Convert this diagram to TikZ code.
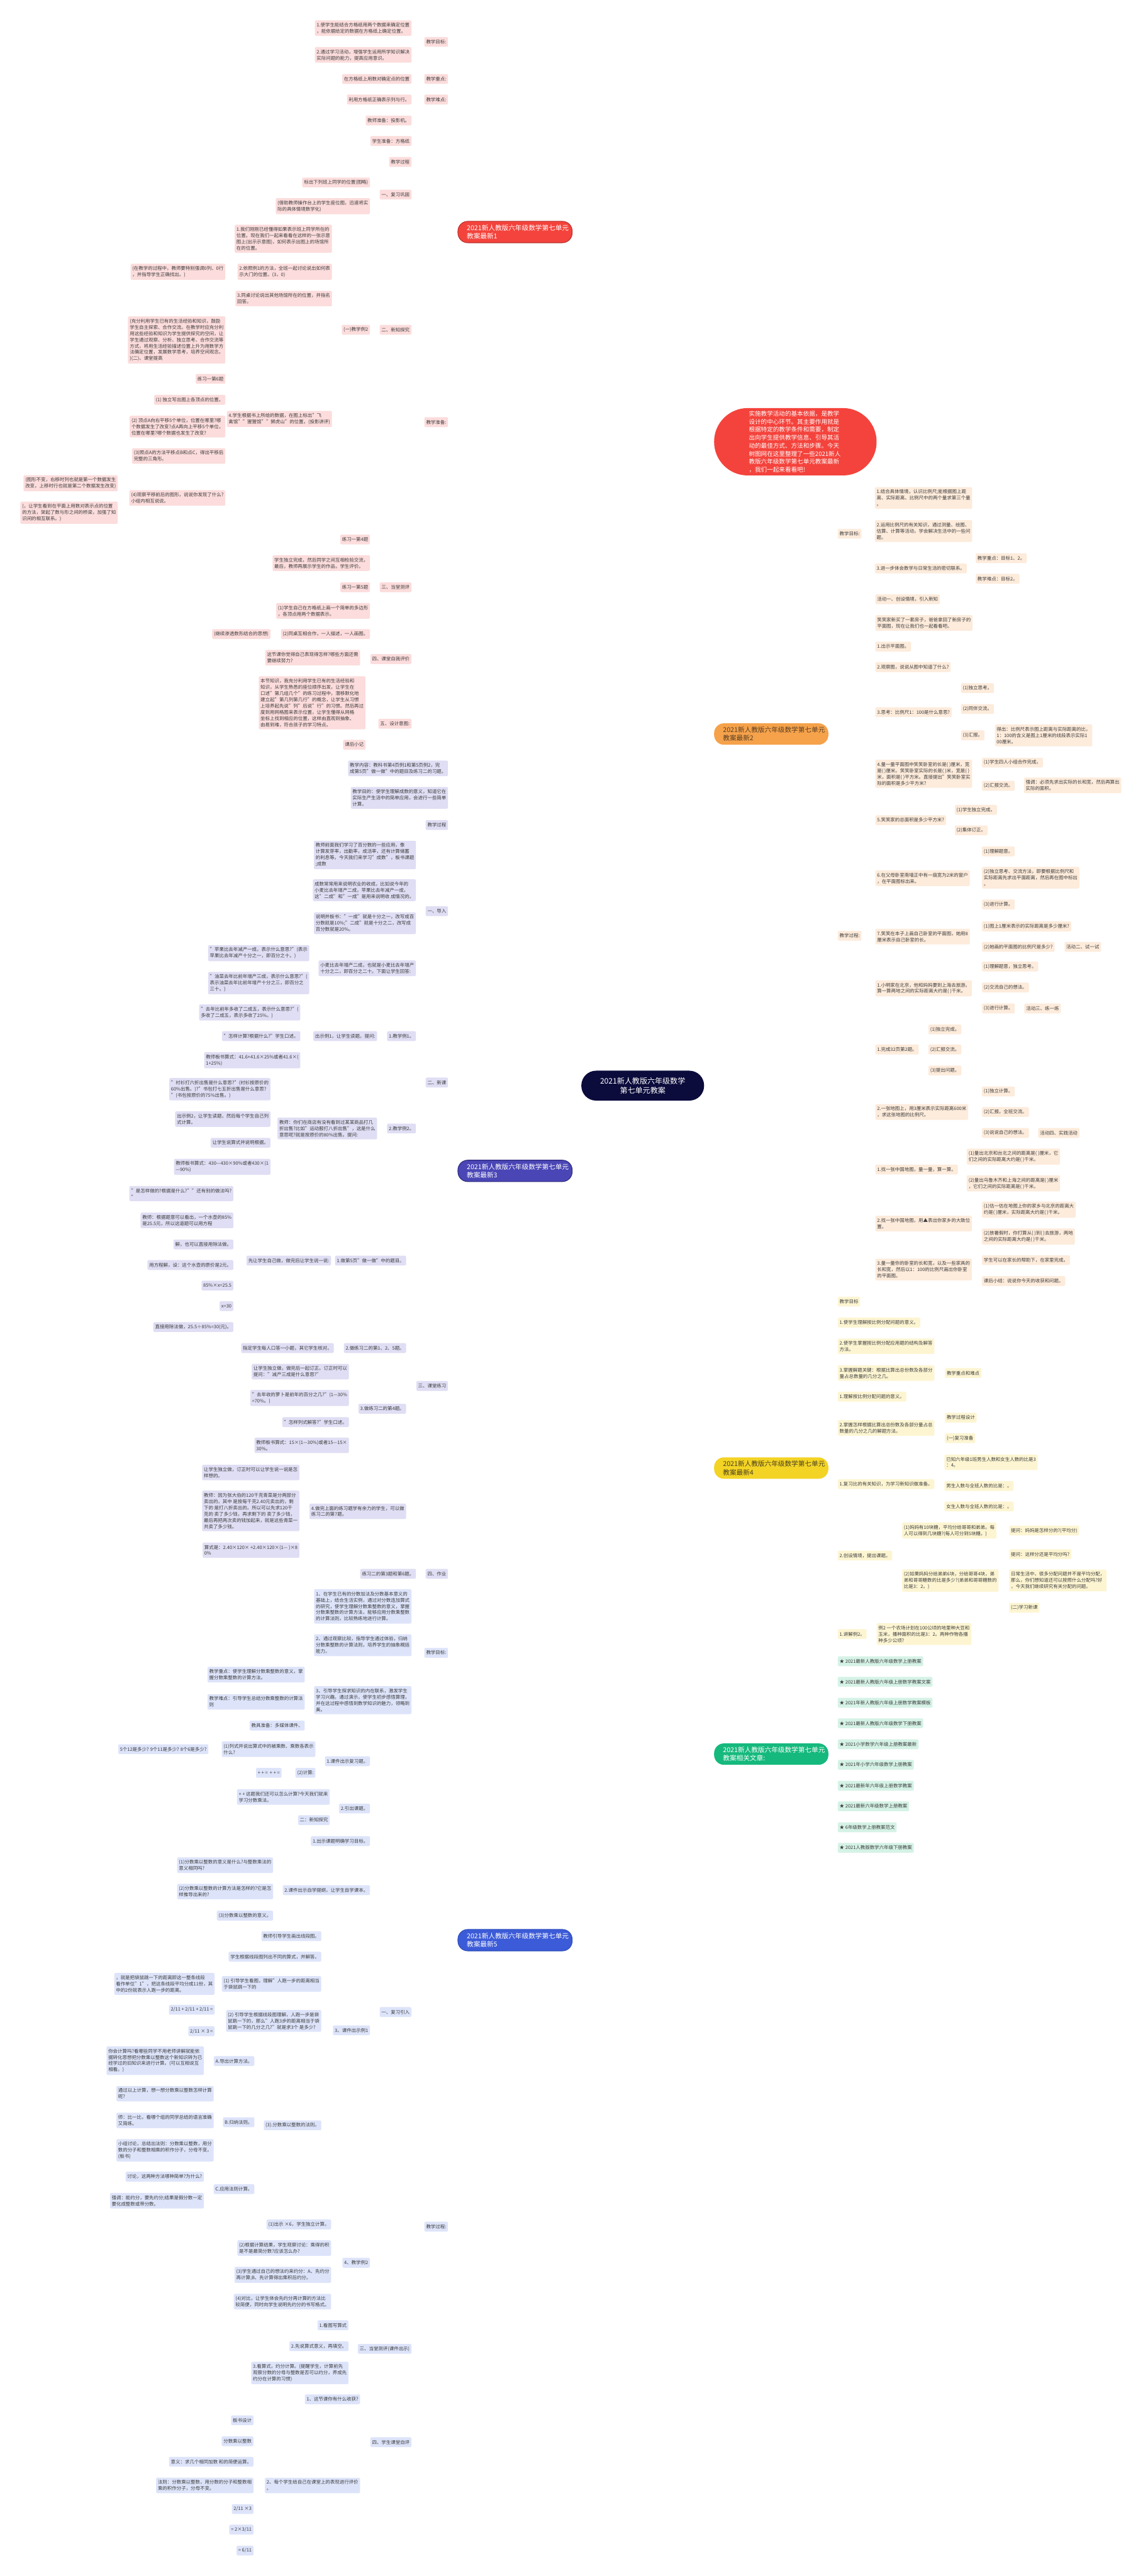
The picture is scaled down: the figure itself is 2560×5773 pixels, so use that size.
\documentclass[tikz,border=0pt]{standalone}
\usepackage{fontspec}
\setmainfont{Noto Sans CJK SC}
\usetikzlibrary{calc}
\pgfdeclarelayer{bg}
\pgfsetlayers{bg,main}
\definecolor{cRed}{HTML}{F4433C}
\definecolor{cRedLeaf}{HTML}{FCDCDC}
\definecolor{cRedLine}{HTML}{B5312C}
\definecolor{cPur}{HTML}{4A46B6}
\definecolor{cPurLeaf}{HTML}{DFDEF4}
\definecolor{cPurLine}{HTML}{2C2A78}
\definecolor{cBlu}{HTML}{3C5BD8}
\definecolor{cBluLeaf}{HTML}{DDE4FA}
\definecolor{cBluLine}{HTML}{2C4DB8}
\definecolor{cOra}{HTML}{F5A24B}
\definecolor{cOraLeaf}{HTML}{FDEBDB}
\definecolor{cOraLine}{HTML}{E09A50}
\definecolor{cYel}{HTML}{F3D324}
\definecolor{cYelLeaf}{HTML}{FDF5D2}
\definecolor{cYelLine}{HTML}{EBCF3A}
\definecolor{cGre}{HTML}{16B97D}
\definecolor{cGreLeaf}{HTML}{D5F2E6}
\definecolor{cGreLine}{HTML}{119062}
\definecolor{cCen}{HTML}{0B0B3C}
\definecolor{cTxt}{HTML}{3C3C3C}
\definecolor{cOraTxt}{HTML}{5A3E22}
\definecolor{cYelTxt}{HTML}{4A4020}
\newcommand\Lk[3]{\draw[#1] (#2.west) -| ([xshift=10pt]#3.east) -- (#3.east);}
\newcommand\Rk[3]{\draw[#1] (#2.east) -| ([xshift=-10pt]#3.west) -- (#3.west);}
\tikzset{
 leaf/.style={rounded corners=3pt, inner xsep=4pt, inner ysep=5.5pt, align=left, minimum height=22pt, font=\fontsize{10.5}{14}\selectfont, text=cTxt},
 rl/.style={leaf, fill=cRedLeaf, anchor=east},
 pl/.style={leaf, fill=cPurLeaf, anchor=east},
 bl/.style={leaf, fill=cBluLeaf, anchor=east},
 ol/.style={leaf, fill=cOraLeaf, anchor=west},
 yl/.style={leaf, fill=cYelLeaf, anchor=west},
 gl/.style={leaf, fill=cGreLeaf, anchor=west},
 mainnode/.style={rounded corners=22pt, minimum width=256pt, minimum height=48pt, text width=216pt, inner xsep=20pt, align=left, font=\fontsize{15}{19}\selectfont},
 lk/.style={line width=1.4pt, rounded corners=6pt},
 lkm/.style={line width=2pt, rounded corners=12pt},
 lkR/.style={lk, draw=cRedLine}, lkRm/.style={lkm, draw=cRedLine},
 lkP/.style={lk, draw=cPurLine}, lkPm/.style={lkm, draw=cPurLine},
 lkB/.style={lk, draw=cBluLine}, lkBm/.style={lkm, draw=cBluLine},
 lkO/.style={lk, draw=cOraLine}, lkOm/.style={lkm, draw=cOraLine},
 lkY/.style={lk, draw=cYelLine}, lkYm/.style={lkm, draw=cYelLine},
 lkG/.style={lk, draw=cGreLine}, lkGm/.style={lkm, draw=cGreLine},
 cc/.style={line width=2pt},
}
\begin{document}
\begin{tikzpicture}[x=1pt,y=-1pt]
\fill[white] (0,0) rectangle (2560,5773);
\useasboundingbox (0,0) rectangle (2560,5773);

% ---------------- centre and descriptions
\node[rounded corners=33pt, fill=cCen, text=white, minimum width=275pt, minimum height=67pt, align=center, font=\fontsize{17}{22}\selectfont] (C) at (1440,2433) {2021新人教版六年级数学\\第七单元教案};
\node[rounded corners=75pt, fill=cRed, text=white, text width=208pt, inner xsep=78pt, inner ysep=6pt, align=left, font=\fontsize{13.5}{18}\selectfont] (D) at (1782,990) {实施教学活动的基本依据，是教学\\设计的中心环节。其主要作用就是\\根据特定的教学条件和需要，制定\\出向学生提供教学信息、引导其活\\动的最佳方式、方法和步骤。今天\\树图网在这里整理了一些2021新人\\教版六年级数学第七单元教案最新\\，我们一起来看看吧!};

% ---------------- branch 1 (red)
\node[mainnode, fill=cRed, draw=cRedLine, line width=1.5pt, text=white] (M1) at (1154,520) {2021新人教版六年级数学第七单元\\教案最新1};
\node[rl] (rA) at (1004,94) {教学目标:};
\node[rl] (rB) at (1004,177) {教学重点:};
\node[rl] (rC) at (1004,223) {教学难点:};
\node[rl] (rD) at (1004,946) {教学准备:};
\node[rl] (rA1) at (922,63) {1.使学生能结合方格纸用两个数据来确定位置\\，能依据给定的数据在方格纸上确定位置。};
\node[rl] (rA2) at (922,123) {2.通过学习活动，增强学生运用所学知识解决\\实际问题的能力，提高应用意识。};
\node[rl] (rB1) at (922,177) {在方格纸上用数对确定点的位置};
\node[rl] (rC1) at (922,223) {利用方格纸正确表示列与行。};
\node[rl] (rD1) at (922,270) {教师准备：投影机。};
\node[rl] (rD2) at (922,316) {学生准备：方格纸};
\node[rl] (rD3) at (922,363) {教学过程};
\node[rl] (rD4) at (922,436) {一、复习巩固};
\node[rl] (rD5) at (922,739) {二、新知探究};
\node[rl] (rD6) at (922,1316) {三、当堂测评};
\node[rl] (rD7) at (922,1477) {四、课堂自我评价};
\node[rl] (rD8) at (922,1622) {五、设计意图:};
\node[rl] (rD4a) at (829,409) {标出下列班上同学的位置(图略)};
\node[rl] (rD4b) at (829,462) {(借助教师操作台上的学生座位图，迅速将实\\际的具体情境数学化)};
\node[rl] (rD5a) at (829,739) {(一)教学例2};
\node[rl] (rE1) at (744,535) {1.我们刚刚已经懂得如果表示班上同学所在的\\位置。现在我们一起来看看在这样的一张示意\\图上(出示示意图)，如何表示出图上的场馆所\\在的位置。};
\node[rl] (rE2) at (744,609) {2.依照例1的方法，全班一起讨论说出如何表\\示大门的位置。(3，0)};
\node[rl] (rE3) at (744,669) {3.同桌讨论说出其他场馆所在的位置，并指名\\回答。};
\node[rl] (rE4) at (744,939) {4.学生根据书上所给的数据，在图上标出"飞\\禽馆""猩猩馆""狮虎山"的位置。(投影讲评)};
\node[rl] (rE2a) at (505,609) {(在教学的过程中，教师要特别强调0列、0行\\，并指导学生正确找出。)};
\node[rl] (rF1) at (505,762) {(充分利用学生已有的生活经验和知识，鼓励\\学生自主探索、合作交流。在教学时应充分利\\用这些经验和知识为学生提供探究的空间，让\\学生通过观察、分析、独立思考、合作交流等\\方式，将用生活经验描述位置上升为用数学方\\法确定位置，发展数学思考，培养空间观念。\\)(二)、课堂提高};
\node[rl] (rF2) at (505,849) {练习一第6题};
\node[rl] (rF3) at (505,896) {(1) 独立写出图上各顶点的位置。};
\node[rl] (rF4) at (505,956) {(2) 顶点A向右平移5个单位，位置在哪里?哪\\个数据发生了改变?点A再向上平移5个单位，\\位置在哪里?哪个数据也发生了改变?};
\node[rl] (rF5) at (505,1022) {(3)照点A的方法平移点B和点C，得出平移后\\完整的三角形。};
\node[rl] (rF6) at (505,1116) {(4)观察平移前后的图形，说说你发现了什么?\\小组内相互说说。};
\node[rl] (rF6a) at (264,1083) {(图形不变，右移时列也就是第一个数据发生\\改变，上移时行也就是第二个数据发生改变)};
\node[rl] (rF6b) at (264,1149) {(，让学生看到在平面上用数对表示点的位置\\的方法，架起了数与形之间的桥梁，加强了知\\识间的相互联系。)};
\node[rl] (rT1) at (829,1209) {练习一第4题};
\node[rl] (rT2) at (829,1262) {学生独立完成，然后同学之间互相检验交流，\\最后，教师再展示学生的作品，学生评价。};
\node[rl] (rT3) at (829,1316) {练习一第5题};
\node[rl] (rT4) at (829,1369) {(1)学生自己在方格纸上画一个简单的多边形\\，各顶点用两个数据表示。};
\node[rl] (rT5) at (829,1421) {(2)同桌互相合作，一人描述，一人画图。};
\node[rl] (rT5a) at (606,1421) {(继续渗透数形结合的思想)};
\node[rl] (rD7a) at (807,1474) {这节课你觉得自己表现得怎样?哪些方面还需\\要继续努力?};
\node[rl] (rD8a) at (819,1575) {本节知识，我充分利用学生已有的生活经验和\\知识，从学生熟悉的座位顺序出发，让学生在\\口述"第几组几个"的练习过程中，潜移默化地\\建立起"第几列第几行"的概念，让学生从习惯\\上培养起先说"列"后说"行"的习惯。然后再过\\度到用网格图来表示位置，让学生懂得从网格\\坐标上找到相应的位置，这样由直观到抽象、\\由易到难，符合孩子的学习特点。};
\node[rl] (rD8b) at (819,1669) {课后小记};

% ---------------- branch 3 (purple)
\node[mainnode, fill=cPur, draw=cPurLine, line width=1.5pt, text=white] (M3) at (1154,2624) {2021新人教版六年级数学第七单元\\教案最新3};
\node[pl] (pC) at (1004,1722) {教学内容：教科书第4页例1和第5页例2，完\\成第5页"做一做"中的题目及练习二的习题。};
\node[pl] (pM) at (1004,1788) {教学目的：使学生理解成数的意义，知道它在\\实际生产生活中的简单应用，会进行一些简单\\计算。};
\node[pl] (pP) at (1004,1849) {教学过程};
\node[pl] (pI) at (1004,2042) {一、导入};
\node[pl] (pN) at (1004,2426) {二、新课};
\node[pl] (pQ) at (1004,3106) {三、课堂练习};
\node[pl] (pH) at (1004,3527) {四、作业};
\node[pl] (pI1) at (932,1916) {教师前面我们学习了百分数的一些应用，像\\计算发芽率，出勤率，成活率，还有计算储蓄\\的利息等。今天我们来学习"成数"，板书课题\\;成数};
\node[pl] (pI2) at (932,1995) {成数常常用来说明农业的收成，比如说今年的\\小麦比去年增产二成，苹果比去年减产一成，\\这"二成"和"一成"是用来说明收 成情况的。};
\node[pl] (pI3) at (932,2069) {说明并板书："一成"就是十分之一，改写成百\\分数就是10\%;"二成"就是十分之二，改写成\\百分数就是20\%。};
\node[pl] (pI4) at (932,2170) {小麦比去年增产二成，也就是小麦比去年增产\\十分之二，即百分之二十。下面让学生回答:};
\node[pl] (pI4a) at (693,2136) {"苹果比去年减产一成，表示什么意思?"(表示\\苹果比去年减产十分之一，即百分之十。)};
\node[pl] (pI4b) at (693,2203) {"油菜去年比前年增产三成，表示什么意思?"(\\表示油菜去年比前年增产十分之三，即百分之\\三十。)};
\node[pl] (pN1) at (932,2322) {1.教学例1。};
\node[pl] (pN1a) at (845,2322) {出示例1，让学生读题。提问:};
\node[pl] (pA1) at (673,2269) {"去年比前年多收了二成五，表示什么意思?"(\\多收了二成五，表示多收了25\%。)};
\node[pl] (pA2) at (673,2322) {"怎样计算?根据什么?"学生口述。};
\node[pl] (pA3) at (673,2376) {教师板书算式：41.6+41.6×25\%或者41.6×(\\1+25\%)};
\node[pl] (pN2) at (932,2529) {2.教学例2。};
\node[pl] (pN2a) at (845,2529) {教师：你们在商店有没有看到过某某商品打几\\折出售?比如"运动服打八折出售"，这是什么\\意思呢?就是按原价的80\%出售。提问:};
\node[pl] (pB1) at (606,2441) {"衬衫打六折出售是什么意思?"(衬衫按原价的\\60\%出售。)?"书包打七五折出售是什么意思?\\"(书包按原价的75\%出售。)};
\node[pl] (pB2) at (606,2508) {出示例2，让学生读题，然后每个学生自己列\\式计算。};
\node[pl] (pB3) at (606,2561) {让学生说算式并说明根据。};
\node[pl] (pB4) at (606,2615) {教师板书算式：430—430×90\%或者430×(1\\—90\%)};
\node[pl] (pQ1) at (910,2825) {1.做第5页"做一做"中的题目。};
\node[pl] (pQ1a) at (742,2825) {先让学生自己做，做完后让学生说一说:};
\node[pl] (pC1) at (523,2675) {"是怎样做的?根据是什么?""还有别的做法吗?\\"};
\node[pl] (pC2) at (523,2735) {教师：根据题意可以看出，一个水壶的85\%\\是25.5元，所以这道题可以用方程};
\node[pl] (pC3) at (523,2789) {解，也可以直接用除法做。};
\node[pl] (pC4) at (523,2835) {用方程解，设：这个水壶的原价是2元。};
\node[pl] (pC5) at (523,2881) {85\%×x=25.5};
\node[pl] (pC6) at (523,2927) {x=30};
\node[pl] (pC7) at (523,2974) {直接用除法做，25.5÷85\%=30(元)。};
\node[pl] (pQ2) at (910,3021) {2.做练习二的第1、2、5题。};
\node[pl] (pQ2a) at (748,3021) {指定学生每人口答一小题，其它学生核对。};
\node[pl] (pQ3) at (910,3157) {3.做练习二的第4题。};
\node[pl] (pD1) at (782,3074) {让学生独立做，做完后一起订正。订正时可以\\提问："减产三成是什么意思?"};
\node[pl] (pD2) at (782,3133) {"去年收的萝卜是前年的百分之几?"(1—30\%\\=70\%。)};
\node[pl] (pD3) at (782,3187) {"怎样列式解答?"学生口述。};
\node[pl] (pD4) at (782,3239) {教师板书算式：15×(1—30\%)或者15—15×\\30\%。};
\node[pl] (pQ4) at (910,3387) {4.做完上面的练习题学有余力的学生，可以做\\练习二的第7题。};
\node[pl] (pE1) at (671,3300) {让学生独立做，订正时可以让学生说一说是怎\\样想的。};
\node[pl] (pE2) at (671,3386) {教师：因为张大伯的120千克青菜是分两部分\\卖出的，其中 是按每千克2.40元卖出的，剩\\下的 是打八折卖出的。所以可以先求120千\\克的 卖了多少钱，再求剩下的 卖了多少钱，\\最后再把两次卖的钱加起来，就是这些青菜一\\共卖了多少钱。};
\node[pl] (pE3) at (671,3474) {算式是：2.40×120× +2.40×120×(1— )×8\\0\%};
\node[pl] (pH1) at (932,3527) {练习二的第3题和第6题。};

% ---------------- branch 5 (blue)
\node[mainnode, fill=cBlu, draw=cBluLine, line width=1.5pt, text=white] (M5) at (1154,4348) {2021新人教版六年级数学第七单元\\教案最新5};
\node[bl] (bG) at (1004,3704) {教学目标:};
\node[bl] (bP) at (1004,4990) {教学过程:};
\node[bl] (bG1) at (922,3600) {1、在学生已有的分数加法及分数基本意义的\\基础上，结合生活实例，通过对分数连加算式\\的研究，使学生理解分数乘整数的意义，掌握\\分数乘整数的计算方法，能够应用分数乘整数\\的计算法则，比较熟练地进行计算。};
\node[bl] (bG2) at (922,3687) {2、通过观察比较，指导学生通过体验，归纳\\分数乘整数的计算法则，培养学生的抽象概括\\能力。};
\node[bl] (bG3) at (922,3810) {3、引导学生探求知识的内在联系，激发学生\\学习兴趣。通过演示，使学生初步感悟算理，\\并在这过程中感悟到数学知识的魅力，领略到\\美。};
\node[bl] (bG3a) at (683,3753) {教学重点：使学生理解分数乘整数的意义，掌\\握分数乘整数的计算方法。};
\node[bl] (bG3b) at (683,3814) {教学难点：引导学生总结分数乘整数的计算法\\则};
\node[bl] (bG3c) at (683,3867) {教具准备：多媒体课件、};
\node[bl] (bS1) at (922,4509) {一、复习引入};
\node[bl] (bS3) at (922,5264) {三、当堂测评(课件出示)};
\node[bl] (bS4) at (922,5473) {四、学生课堂自评};
\node[bl] (bA1) at (829,3947) {1.课件出示复习题。};
\node[bl] (bA2) at (829,4053) {2.引出课题。};
\node[bl] (bA3) at (829,4126) {1.出示课题明确学习目标。};
\node[bl] (bA4) at (829,4236) {2.课件出示自学提纲，让学生自学课本。};
\node[bl] (bA5) at (829,4550) {3、课件出示例1};
\node[bl] (bA6) at (829,5071) {4、教学例2};
\node[bl] (bA1a) at (707,3920) {(1)列式并说出算式中的被乘数、乘数各表示\\什么?};
\node[bl] (bA1a1) at (467,3920) {5个12是多少? 9个11是多少? 8个6是多少?};
\node[bl] (bA1b) at (707,3973) {(2)计算:};
\node[bl] (bA1b1) at (631,3973) {+ + = \ + + =};
\node[bl] (bA2a) at (739,4027) {+ + 这题我们还可以怎么计算?今天我们就来\\学习分数乘法。};
\node[bl] (bA2b) at (739,4079) {二：新知探究};
\node[bl] (bA4a) at (612,4180) {(1)分数乘以整数的意义是什么?与整数乘法的\\意义相同吗?};
\node[bl] (bA4b) at (612,4239) {(2)分数乘以整数的计算方法是怎样的?它是怎\\样推导出来的?};
\node[bl] (bA4c) at (612,4293) {(3)分数乘以整数的意义。};
\node[bl] (bX1) at (720,4339) {教师引导学生画出线段图。};
\node[bl] (bX2) at (720,4385) {学生根据线段图列出不同的算式，并解答。};
\node[bl] (bX3) at (720,4446) {(1) 引导学生看图，理解"人跑一步的距离相当\\于袋鼠跳一下的};
\node[bl] (bX3a) at (481,4446) {，就是把袋鼠跳一下的距离即这一整条线段\\看作单位"1"，把这条线段平均分成11份，其\\中的2份就表示人跑一步的距离。};
\node[bl] (bX4) at (720,4529) {(2) 引导学生根据线段图理解，人跑一步是袋\\鼠跳一下的，那么"人跑3步的距离相当于袋\\鼠跳一下的几分之几?"就是求3个 是多少?};
\node[bl] (bX4a) at (481,4504) {2/11 + 2/11 + 2/11 =};
\node[bl] (bX4b) at (481,4552) {2/11 × 3 =};
\node[bl] (bX5) at (720,4763) {(3).分数乘以整数的法则。};
\node[bl] (bY1) at (570,4619) {A.导出计算方法。};
\node[bl] (bY1a) at (457,4618) {你会计算吗?看哪些同学不用老师讲解就能依\\据转化思想把分数乘以整数这个新知识转为已\\经学过的旧知识来进行计算。(可以互相说互\\相看。)};
\node[bl] (bY2) at (570,4756) {B.归纳法则。};
\node[bl] (bY2a) at (479,4692) {通过以上计算，想一想分数乘以整数怎样计算\\呢?};
\node[bl] (bY2b) at (479,4752) {师：比一比，看哪个组的同学总结的语言准确\\又简练。};
\node[bl] (bY2c) at (479,4819) {小组讨论，总结出法则：分数乘以整数，用分\\数的分子和整数相乘的积作分子，分母不变。\\(板书)};
\node[bl] (bY3) at (570,4906) {C.应用法则计算。};
\node[bl] (bY3a) at (457,4878) {讨论，这两种方法哪种简单?为什么?};
\node[bl] (bY3b) at (457,4932) {强调：能约分，要先约分;结果是假分数一定\\要化成整数或带分数。};
\node[bl] (bZ1) at (742,4985) {(1)出示 ×6，学生独立计算。};
\node[bl] (bZ2) at (742,5038) {(2)根据计算结果，学生观察讨论：乘得的积\\是不是最简分数?应该怎么办?};
\node[bl] (bZ3) at (742,5098) {(3)学生通过自己的想法约来约分：A、先约分\\再计算;B、先计算得出乘积后约分。};
\node[bl] (bZ4) at (742,5158) {(4)对比，让学生体会先约分再计算的方法比\\较简便，同时向学生说明先约分的书写格式。};
\node[bl] (bT1) at (781,5211) {1.看图写算式};
\node[bl] (bT2) at (781,5258) {2.先说算式意义，再填空。};
\node[bl] (bT3) at (781,5318) {3.看算式，约分计算。(提醒学生，计算前先\\观察分数的分母与整数是否可以约分，养成先\\约分在计算的习惯)};
\node[bl] (bU1) at (807,5377) {1、这节课你有什么收获?};
\node[bl] (bU2) at (807,5570) {2、每个学生给自己在课堂上的表现进行评价\\。};
\node[bl] (bV1) at (568,5424) {板书设计};
\node[bl] (bV2) at (568,5471) {分数乘以整数};
\node[bl] (bV3) at (568,5517) {意义：求几个相同加数 和的简便运算。};
\node[bl] (bV4) at (568,5570) {法则：分数乘以整数，用分数的分子和整数相\\乘的积作分子，分母不变。};
\node[bl] (bV5) at (568,5623) {2/11 ×3};
\node[bl] (bV6) at (568,5669) {= 2×3/11};
\node[bl] (bV7) at (568,5716) {= 6/11};

% ---------------- branch 2 (orange)
\node[mainnode, fill=cOra, text=cOraTxt] (M2) at (1728,1645) {2021新人教版六年级数学第七单元\\教案最新2};
\node[ol] (oG) at (1877,1196) {教学目标:};
\node[ol] (oP) at (1877,2097) {教学过程:};
\node[ol] (oG1) at (1960,1116) {1.结合具体情境，认识比例尺;能根据图上距\\离、实际距离、比例尺中的两个量求第三个量\\。};
\node[ol] (oG2) at (1960,1190) {2.运用比例尺的有关知识，通过测量、绘图、\\估算、计算等活动，学会解决生活中的一些问\\题。};
\node[ol] (oG3) at (1960,1274) {3.进一步体会数学与日常生活的密切联系。};
\node[ol] (oG3a) at (2186,1251) {教学重点：目标1、2。};
\node[ol] (oG3b) at (2186,1297) {教学难点：目标2。};
\node[ol] (o1) at (1961,1343) {活动一、创设情境，引入新知};
\node[ol] (o2) at (1961,1396) {笑笑家新买了一套房子，爸爸拿回了新房子的\\平面图，现在让我们也一起看看吧。};
\node[ol] (o3) at (1961,1449) {1.出示平面图。};
\node[ol] (o4) at (1961,1495) {2.观察图，说说从图中知道了什么?};
\node[ol] (o5) at (1961,1596) {3.思考：比例尺1：100是什么意思?};
\node[ol] (o5a) at (2153,1542) {(1)独立思考。};
\node[ol] (o5b) at (2153,1589) {(2)同伴交流。};
\node[ol] (o5c) at (2153,1648) {(3)汇报。};
\node[ol] (o5c1) at (2229,1648) {得出：比例尺表示图上距离与实际距离的比，\\1：100的含义是图上1厘米的线段表示实际1\\00厘米。};
\node[ol] (o6) at (1961,1734) {4.量一量平面图中笑笑卧室的长是( )厘米，宽\\是( )厘米。笑笑卧室实际的长是( )米，宽是( )\\米，面积是( )平方米。直接提出"笑笑卧室实\\际的面积是多少平方米?};
\node[ol] (o6a) at (2200,1709) {(1)学生四人小组合作完成。};
\node[ol] (o6b) at (2200,1761) {(2)汇报交流。};
\node[ol] (o6b1) at (2294,1760) {强调：必须先求出实际的长和宽，然后再算出\\实际的面积。};
\node[ol] (o7) at (1961,1838) {5.笑笑家的总面积是多少平方米?};
\node[ol] (o7a) at (2139,1815) {(1)学生独立完成。};
\node[ol] (o7b) at (2139,1861) {(2)集体订正。};
\node[ol] (o8) at (1961,1968) {6.在父母卧室南墙正中有一扇宽为2米的窗户\\，在平面图标出来。};
\node[ol] (o8a) at (2200,1908) {(1)理解题意。};
\node[ol] (o8b) at (2200,1967) {(2)独立思考、交流方法，即要根据比例尺和\\实际距离先求出平面距离，然后再在图中标出\\。};
\node[ol] (o8c) at (2200,2027) {(3)进行计算。};
\node[ol] (o9) at (1961,2099) {7.笑笑在本子上画自己卧室的平面图，她用8\\厘米表示自己卧室的长。};
\node[ol] (o9a) at (2200,2076) {(1)图上1厘米表示的实际距离是多少厘米?};
\node[ol] (o9b) at (2200,2122) {(2)她画的平面图的比例尺是多少?};
\node[ol] (o9b1) at (2385,2122) {活动二、试一试};
\node[ol] (o10) at (1961,2215) {1.小明家在北京，他和妈妈要到上海去旅游。\\算一算两地之间的实际距离大约是( )千米。};
\node[ol] (o10a) at (2200,2166) {(1)理解题意，独立思考。};
\node[ol] (o10b) at (2200,2213) {(2)交流自己的想法。};
\node[ol] (o10c) at (2200,2260) {(3)进行计算。};
\node[ol] (o10c1) at (2295,2260) {活动三、练一练};
\node[ol] (o11) at (1961,2352) {1.完成32页第2题。};
\node[ol] (o11a) at (2080,2307) {(1)独立完成。};
\node[ol] (o11b) at (2080,2352) {(2)汇报交流。};
\node[ol] (o11c) at (2080,2399) {(3)提出问题。};
\node[ol] (o12) at (1961,2492) {2.一张地图上，用3厘米表示实际距离600米\\，求这张地图的比例尺。};
\node[ol] (o12a) at (2200,2446) {(1)独立计算。};
\node[ol] (o12b) at (2200,2492) {(2)汇报，全班交流。};
\node[ol] (o12c) at (2200,2539) {(3)说说自己的想法。};
\node[ol] (o12c1) at (2326,2539) {活动四、实践活动};
\node[ol] (o13) at (1961,2621) {1.找一张中国地图，量一量，算一算。};
\node[ol] (o13a) at (2166,2592) {(1)量出北京和台北之间的距离是( )厘米，它\\们之间的实际距离大约是( )千米。};
\node[ol] (o13b) at (2166,2652) {(2)量出乌鲁木齐和上海之间的距离是( )厘米\\，它们之间的实际距离是( )千米。};
\node[ol] (o14) at (1961,2742) {2.找一张中国地图，用▲表出你家乡的大致位\\置。};
\node[ol] (o14a) at (2200,2711) {(1)估一估在地图上你的家乡与北京的距离大\\约是( )厘米，实际距离大约是( )千米。};
\node[ol] (o14b) at (2200,2771) {(2)放暑假时，你打算从( )到( )去旅游，两地\\之间的实际距离大约是( )千米。};
\node[ol] (o15) at (1961,2845) {3.量一量你的卧室的长和宽，以及一些家具的\\长和宽，然后以1：100的比例尺画出你卧室\\的平面图。};
\node[ol] (o15a) at (2200,2824) {学生可以在家长的帮助下，在家里完成。};
\node[ol] (o15b) at (2200,2871) {课后小结：说说你今天的收获和问题。};

% ---------------- branch 4 (yellow)
\node[mainnode, fill=cYel, text=cYelTxt] (M4) at (1728,3290) {2021新人教版六年级数学第七单元\\教案最新4};
\node[yl] (y1) at (1877,2917) {教学目标};
\node[yl] (y2) at (1877,2964) {1.使学生理解按比例分配问题的意义。};
\node[yl] (y3) at (1877,3017) {2.使学生掌握按比例分配应用题的结构及解答\\方法。};
\node[yl] (y4) at (1877,3077) {3.掌握解题关键：根据比算出总份数及各部分\\量占总数量的几分之几。};
\node[yl] (y4a) at (2117,3077) {教学重点和难点};
\node[yl] (y5) at (1877,3130) {1.理解按比例分配问题的意义。};
\node[yl] (y6) at (1877,3200) {2.掌握怎样根据比算出总份数及各部分量占总\\数量的几分之几的解题方法。};
\node[yl] (y6a) at (2117,3177) {教学过程设计};
\node[yl] (y6b) at (2117,3223) {(一)复习准备};
\node[yl] (y7) at (1877,3326) {1.复习比的有关知识，为学习新知识做准备。};
\node[yl] (y7a) at (2116,3277) {已知六年级1班男生人数和女生人数的比是3\\：4。};
\node[yl] (y7b) at (2116,3330) {男生人数与全班人数的比是：。};
\node[yl] (y7c) at (2116,3376) {女生人数与全班人数的比是：。};
\node[yl] (y8) at (1877,3486) {2.创设情境，提出课题。};
\node[yl] (y8a) at (2021,3430) {(1)妈妈有10块糖，平均分给哥哥和弟弟。每\\人可以得到几块糖?(每人可分到5块糖。)};
\node[yl] (y8a1) at (2261,3430) {提问：妈妈是怎样分的?(平均分)};
\node[yl] (y8b) at (2021,3542) {(2)如果妈妈分给弟弟6块，分给哥哥4块，弟\\弟和哥哥糖数的比是多少?(弟弟和哥哥糖数的\\比是3：2。)};
\node[yl] (y8b1) at (2261,3483) {提问：这样分还是平均分吗?};
\node[yl] (y8b2) at (2261,3542) {日常生活中，很多分配问题并不是平均分配，\\那么，你们想知道还可以按照什么分配吗?好\\，今天我们继续研究有关分配的问题。};
\node[yl] (y8b3) at (2261,3603) {(二)学习新课};
\node[yl] (y9) at (1877,3662) {1.讲解例2。};
\node[yl] (y9a) at (1964,3662) {例2 一个农场计划在100公顷的地里种大豆和\\玉米，播种面积的比是3：2。两种作物各播\\种多少公顷?};

% ---------------- branch 6 (green)
\node[mainnode, fill=cGre, text=white] (M6) at (1728,3931) {2021新人教版六年级数学第七单元\\教案相关文章:};
\node[gl] (g1) at (1877,3723) {★ 2021最新人教版六年级数学上册教案};
\node[gl] (g2) at (1877,3769) {★ 2021最新人教版六年级上册数学教案文案};
\node[gl] (g3) at (1877,3816) {★ 2021年新人教版六年级上册数学教案模板};
\node[gl] (g4) at (1877,3862) {★ 2021最新人教版六年级数学下册教案};
\node[gl] (g5) at (1877,3909) {★ 2021小学数学六年级上册教案最新};
\node[gl] (g6) at (1877,3955) {★ 2021年小学六年级数学上册教案};
\node[gl] (g7) at (1877,4002) {★ 2021最新年六年级上册数学教案};
\node[gl] (g8) at (1877,4048) {★ 2021最新六年级数学上册教案};
\node[gl] (g9) at (1877,4095) {★ 6年级数学上册教案范文};
\node[gl] (g10) at (1877,4141) {★ 2021人教版数学六年级下册教案};

% ---------------- connectors
\begin{pgfonlayer}{bg}
\draw[cc, draw=cRed] (C.center) .. controls (1440,1285) and (1361,520) .. (M1.east);
\draw[cc, draw=cRed] (C.center) .. controls (1440,1567) and (1520,990) .. (D.west);
\draw[cc, draw=cOra] (C.center) .. controls (1440,1960) and (1520,1645) .. (M2.west);
\draw[cc, draw=cPurLine] (C.center) .. controls (1440,2548) and (1361,2624) .. (M3.east);
\draw[cc, draw=cYel] (C.center) .. controls (1440,2947) and (1520,3290) .. (M4.west);
\draw[cc, draw=cGre] (C.center) .. controls (1440,3332) and (1520,3931) .. (M6.west);
\draw[cc, draw=cBlu] (C.center) .. controls (1440,3582) and (1361,4348) .. (M5.east);

% red
\foreach \c in {rA,rB,rC,rD} {\Lk{lkRm}{M1}{\c}}
\foreach \c in {rA1,rA2} {\Lk{lkR}{rA}{\c}}
\Lk{lkR}{rB}{rB1}
\Lk{lkR}{rC}{rC1}
\foreach \c in {rD1,rD2,rD3,rD4,rD5,rD6,rD7,rD8} {\Lk{lkR}{rD}{\c}}
\foreach \c in {rD4a,rD4b} {\Lk{lkR}{rD4}{\c}}
\Lk{lkR}{rD5}{rD5a}
\foreach \c in {rE1,rE2,rE3,rE4} {\Lk{lkR}{rD5a}{\c}}
\Lk{lkR}{rE2}{rE2a}
\foreach \c in {rF1,rF2,rF3,rF4,rF5,rF6} {\Lk{lkR}{rE4}{\c}}
\foreach \c in {rF6a,rF6b} {\Lk{lkR}{rF6}{\c}}
\foreach \c in {rT1,rT2,rT3,rT4,rT5} {\Lk{lkR}{rD6}{\c}}
\Lk{lkR}{rT5}{rT5a}
\Lk{lkR}{rD7}{rD7a}
\foreach \c in {rD8a,rD8b} {\Lk{lkR}{rD8}{\c}}

% purple
\foreach \c in {pC,pM,pP,pI,pN,pQ,pH} {\Lk{lkPm}{M3}{\c}}
\foreach \c in {pI1,pI2,pI3,pI4} {\Lk{lkP}{pI}{\c}}
\foreach \c in {pI4a,pI4b} {\Lk{lkP}{pI4}{\c}}
\foreach \c in {pN1,pN2} {\Lk{lkP}{pN}{\c}}
\Lk{lkP}{pN1}{pN1a}
\foreach \c in {pA1,pA2,pA3} {\Lk{lkP}{pN1a}{\c}}
\Lk{lkP}{pN2}{pN2a}
\foreach \c in {pB1,pB2,pB3,pB4} {\Lk{lkP}{pN2a}{\c}}
\foreach \c in {pQ1,pQ2,pQ3,pQ4} {\Lk{lkP}{pQ}{\c}}
\Lk{lkP}{pQ1}{pQ1a}
\foreach \c in {pC1,pC2,pC3,pC4,pC5,pC6,pC7} {\Lk{lkP}{pQ1a}{\c}}
\Lk{lkP}{pQ2}{pQ2a}
\foreach \c in {pD1,pD2,pD3,pD4} {\Lk{lkP}{pQ3}{\c}}
\foreach \c in {pE1,pE2,pE3} {\Lk{lkP}{pQ4}{\c}}
\Lk{lkP}{pH}{pH1}

% blue
\foreach \c in {bG,bP} {\Lk{lkBm}{M5}{\c}}
\foreach \c in {bG1,bG2,bG3} {\Lk{lkB}{bG}{\c}}
\foreach \c in {bG3a,bG3b,bG3c} {\Lk{lkB}{bG3}{\c}}
\foreach \c in {bS1,bS3,bS4} {\Lk{lkB}{bP}{\c}}
\foreach \c in {bA1,bA2,bA3,bA4,bA5,bA6} {\Lk{lkB}{bS1}{\c}}
\foreach \c in {bA1a,bA1b} {\Lk{lkB}{bA1}{\c}}
\Lk{lkB}{bA1a}{bA1a1}
\Lk{lkB}{bA1b}{bA1b1}
\foreach \c in {bA2a,bA2b} {\Lk{lkB}{bA2}{\c}}
\foreach \c in {bA4a,bA4b,bA4c} {\Lk{lkB}{bA4}{\c}}
\foreach \c in {bX1,bX2,bX3,bX4,bX5} {\Lk{lkB}{bA5}{\c}}
\Lk{lkB}{bX3}{bX3a}
\foreach \c in {bX4a,bX4b} {\Lk{lkB}{bX4}{\c}}
\foreach \c in {bY1,bY2,bY3} {\Lk{lkB}{bX5}{\c}}
\Lk{lkB}{bY1}{bY1a}
\foreach \c in {bY2a,bY2b,bY2c} {\Lk{lkB}{bY2}{\c}}
\foreach \c in {bY3a,bY3b} {\Lk{lkB}{bY3}{\c}}
\foreach \c in {bZ1,bZ2,bZ3,bZ4} {\Lk{lkB}{bA6}{\c}}
\foreach \c in {bT1,bT2,bT3} {\Lk{lkB}{bS3}{\c}}
\foreach \c in {bU1,bU2} {\Lk{lkB}{bS4}{\c}}
\foreach \c in {bV1,bV2,bV3,bV4,bV5,bV6,bV7} {\Lk{lkB}{bU2}{\c}}

% orange
\foreach \c in {oG,oP} {\Rk{lkOm}{M2}{\c}}
\foreach \c in {oG1,oG2,oG3} {\Rk{lkO}{oG}{\c}}
\foreach \c in {oG3a,oG3b} {\Rk{lkO}{oG3}{\c}}
\foreach \c in {o1,o2,o3,o4,o5,o6,o7,o8,o9,o10,o11,o12,o13,o14,o15} {\Rk{lkO}{oP}{\c}}
\foreach \c in {o5a,o5b,o5c} {\Rk{lkO}{o5}{\c}}
\Rk{lkO}{o5c}{o5c1}
\foreach \c in {o6a,o6b} {\Rk{lkO}{o6}{\c}}
\Rk{lkO}{o6b}{o6b1}
\foreach \c in {o7a,o7b} {\Rk{lkO}{o7}{\c}}
\foreach \c in {o8a,o8b,o8c} {\Rk{lkO}{o8}{\c}}
\foreach \c in {o9a,o9b} {\Rk{lkO}{o9}{\c}}
\Rk{lkO}{o9b}{o9b1}
\foreach \c in {o10a,o10b,o10c} {\Rk{lkO}{o10}{\c}}
\Rk{lkO}{o10c}{o10c1}
\foreach \c in {o11a,o11b,o11c} {\Rk{lkO}{o11}{\c}}
\foreach \c in {o12a,o12b,o12c} {\Rk{lkO}{o12}{\c}}
\Rk{lkO}{o12c}{o12c1}
\foreach \c in {o13a,o13b} {\Rk{lkO}{o13}{\c}}
\foreach \c in {o14a,o14b} {\Rk{lkO}{o14}{\c}}
\foreach \c in {o15a,o15b} {\Rk{lkO}{o15}{\c}}

% yellow
\foreach \c in {y1,y2,y3,y4,y5,y6,y7,y8,y9} {\Rk{lkYm}{M4}{\c}}
\Rk{lkY}{y4}{y4a}
\foreach \c in {y6a,y6b} {\Rk{lkY}{y6}{\c}}
\foreach \c in {y7a,y7b,y7c} {\Rk{lkY}{y7}{\c}}
\foreach \c in {y8a,y8b} {\Rk{lkY}{y8}{\c}}
\Rk{lkY}{y8a}{y8a1}
\foreach \c in {y8b1,y8b2,y8b3} {\Rk{lkY}{y8b}{\c}}
\Rk{lkY}{y9}{y9a}

% green
\foreach \c in {g1,g2,g3,g4,g5,g6,g7,g8,g9,g10} {\Rk{lkGm}{M6}{\c}}
\end{pgfonlayer}
\end{tikzpicture}
\end{document}
